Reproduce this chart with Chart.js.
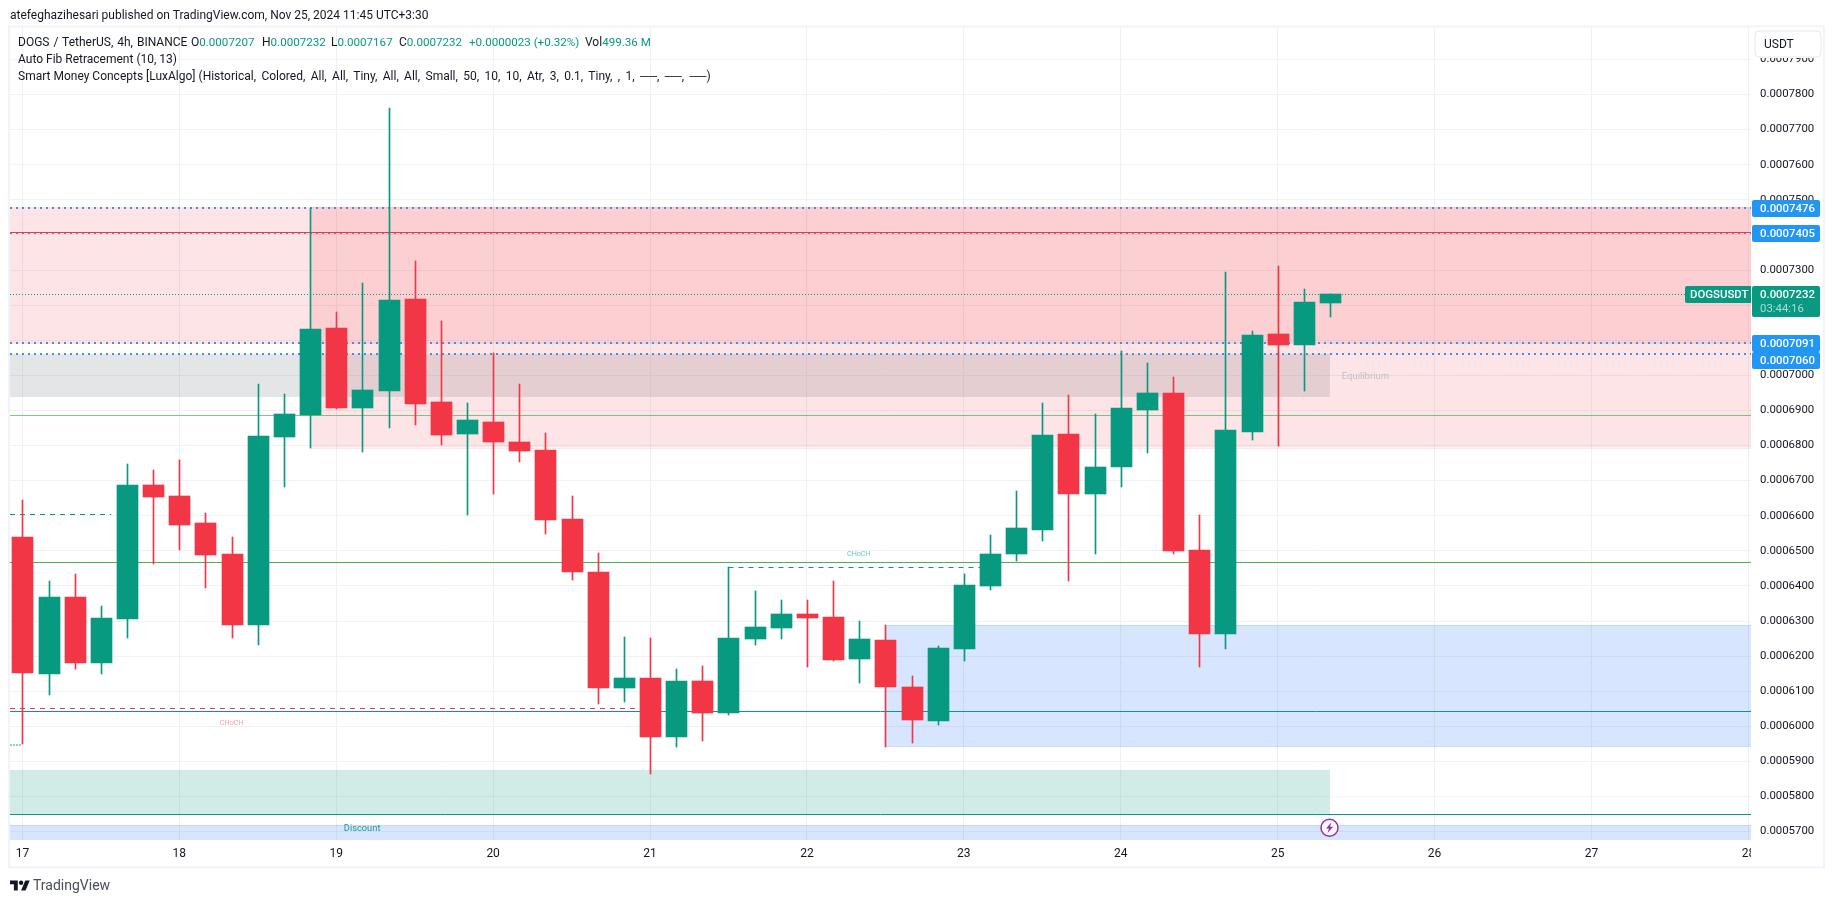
<!DOCTYPE html>
<html>
<head>
<meta charset="utf-8">
<title>DOGS / TetherUS, 4h</title>
<script src="https://cdn.jsdelivr.net/npm/chart.js@4"></script>
<style>
    html, body { margin: 0; padding: 0; background: #fff; width: 1835px; height: 903px; overflow: hidden; }
    body { font-family: Roboto, sans-serif; color: #131722; position: relative; }
    #myChart { position: absolute; left: 0; top: 0; }
    .txt { position: absolute; white-space: pre; font-size: 12px; line-height: 16px; }
    .val { color: #089981; font-size: 11.6px; }
    #logo { position: absolute; left: 10px; top: 878px; }
</style>
</head>
<body>
<canvas id="myChart" width="1835" height="903"></canvas>
<div class="txt" style="left:10px;top:7px">atefeghazihesari published on TradingView.com, Nov 25, 2024 11:45 UTC+3:30</div>
<div class="txt" style="left:18px;top:34px;word-spacing:1px">DOGS / TetherUS, 4h, BINANCE</div>
<div class="txt" style="left:191px;top:34px">O<span class="val">0.0007207</span></div>
<div class="txt" style="left:262px;top:34px">H<span class="val">0.0007232</span></div>
<div class="txt" style="left:331px;top:34px">L<span class="val">0.0007167</span></div>
<div class="txt" style="left:399px;top:34px">C<span class="val">0.0007232</span></div>
<div class="txt val" style="left:469px;top:34px">+0.0000023 (+0.32%)</div>
<div class="txt" style="left:585px;top:34px">Vol<span class="val">499.36 M</span></div>
<div class="txt" style="left:18px;top:51px">Auto Fib Retracement (10, 13)</div>
<div class="txt" style="left:18px;top:68px">Smart Money Concepts [LuxAlgo] <span style="word-spacing:2.4px">(Historical, Colored, All, All, Tiny, All, All, Small, 50, 10, 10, Atr, 3, 0.1, Tiny, , 1, ──, ──, ──)</span></div>
<svg id="logo" width="20" height="16" viewBox="0 0 36 28"><path fill="#131722" d="M14 22H7V11H0V4h14v18zM28 22h-8l7.5-18h8L28 22z"/><circle fill="#131722" cx="20" cy="8" r="4"/></svg>
<div class="txt" style="left:33px;top:877px;font-size:14px;color:#4a4e5a">TradingView</div>

<script>
// Свічки, індекс = номер 4h свічки від початку 17-го
var opens = [
    0.0006539, 0.0006149, 0.0006368, 0.0006180, 0.0006306, 0.0006687, 0.0006656, 0.0006579, 0.0006491, 0.0006289,
    0.0006824, 0.0006887, 0.0007135, 0.0006907, 0.0006955, 0.0007217, 0.0006924, 0.0006833, 0.0006867, 0.0006810,
    0.0006787, 0.0006590, 0.0006440, 0.0006109, 0.0006137, 0.0005970, 0.0006129, 0.0006038, 0.0006249, 0.0006280,
    0.0006320, 0.0006311, 0.0006192, 0.0006246, 0.0006112, 0.0006015, 0.0006220, 0.0006400, 0.0006491, 0.0006559,
    0.0006833, 0.0006662, 0.0006739, 0.0006901, 0.0006950, 0.0006502, 0.0006263, 0.0006838, 0.0007118, 0.0007086,
    0.0007207
];
var highs = [
    0.0006645, 0.0006414, 0.0006434, 0.0006343, 0.0006747, 0.0006730, 0.0006759, 0.0006608, 0.0006539, 0.0006975,
    0.0006947, 0.0007478, 0.0007180, 0.0007263, 0.0007762, 0.0007326, 0.0007155, 0.0006921, 0.0007063, 0.0006975,
    0.0006836, 0.0006656, 0.0006494, 0.0006254, 0.0006251, 0.0006163, 0.0006172, 0.0006453, 0.0006385, 0.0006360,
    0.0006360, 0.0006414, 0.0006300, 0.0006289, 0.0006143, 0.0006229, 0.0006434, 0.0006545, 0.0006670, 0.0006921,
    0.0006944, 0.0006890, 0.0007069, 0.0007035, 0.0006995, 0.0006602, 0.0007294, 0.0007126, 0.0007311, 0.0007246,
    0.0007232
];
var lows = [
    0.0005950, 0.0006089, 0.0006163, 0.0006149, 0.0006251, 0.0006462, 0.0006502, 0.0006394, 0.0006251, 0.0006231,
    0.0006682, 0.0006793, 0.0006904, 0.0006781, 0.0006850, 0.0006858, 0.0006801, 0.0006602, 0.0006662, 0.0006753,
    0.0006548, 0.0006417, 0.0006063, 0.0006069, 0.0005864, 0.0005941, 0.0005958, 0.0006032, 0.0006231, 0.0006249,
    0.0006169, 0.0006186, 0.0006123, 0.0005941, 0.0005952, 0.0006004, 0.0006186, 0.0006388, 0.0006471, 0.0006528,
    0.0006414, 0.0006491, 0.0006682, 0.0006779, 0.0006491, 0.0006169, 0.0006220, 0.0006816, 0.0006799, 0.0006955,
    0.0007167
];
var closes = [
    0.0006152, 0.0006368, 0.0006180, 0.0006308, 0.0006687, 0.0006653, 0.0006573, 0.0006488, 0.0006289, 0.0006827,
    0.0006890, 0.0007132, 0.0006907, 0.0006958, 0.0007214, 0.0006918, 0.0006830, 0.0006873, 0.0006810, 0.0006784,
    0.0006588, 0.0006440, 0.0006109, 0.0006137, 0.0005970, 0.0006129, 0.0006038, 0.0006251, 0.0006283, 0.0006320,
    0.0006308, 0.0006189, 0.0006249, 0.0006112, 0.0006018, 0.0006223, 0.0006402, 0.0006491, 0.0006565, 0.0006830,
    0.0006662, 0.0006739, 0.0006907, 0.0006950, 0.0006500, 0.0006263, 0.0006844, 0.0007115, 0.0007086, 0.0007209,
    0.0007232
];

var dayLabels = ['17', '18', '19', '20', '21', '22', '23', '24', '25', '26', '27', '28'];

// Межі осей
var xMin = -0.474;
var xMax = 66.1;
var yMin = 0.00056761;
var yMax = 0.00079923;

// Зони
var zoneFrom = [xMin, 11, xMin, xMin, 33, xMin];
var zoneTo = [xMax, xMax, 50, 50, xMax, xMax];
var zoneLow = [0.0007089, 0.0006794, 0.0006938, 0.0005749, 0.0005943, 0.00056761];
var zoneHigh = [0.0007480, 0.0007480, 0.0007062, 0.0005875, 0.0006289, 0.0005718];
var zoneFill = ['rgba(242,54,69,0.13)', 'rgba(242,54,69,0.13)', 'rgba(120,123,134,0.2)', 'rgba(8,153,129,0.19)', 'rgba(33,110,250,0.18)', 'rgba(33,110,250,0.18)'];
var zoneEdge = [null, 'rgba(242,54,69,0.12)', null, null, 'rgba(41,98,255,0.2)', 'rgba(41,98,255,0.2)'];

// Горизонтальні рівні (менший індекс малюється зверху)
var levelFrom = [xMin, xMin, xMin, xMin, xMin, xMin, xMin, xMin, xMin, xMin, xMin, 27, xMin, xMin];
var levelTo = [xMax, xMax, xMax, xMax, xMax, xMax, xMax, xMax, xMax, 24, 3.4, 37.2, -0.05, xMax];
var levelPrice = [0.0007408, 0.0007476, 0.0007405, 0.0007091, 0.0007060, 0.0007232, 0.0006886, 0.0006467, 0.0006045, 0.0006051, 0.0006604, 0.0006453, 0.0005948, 0.0005749];
var levelColor = ['#f23645', '#4590de', '#4590de', '#4590de', '#4590de', '#089981', 'rgba(76,175,80,0.7)', '#4caf50', '#089981', '#f23645', '#089981', '#089981', 'rgba(8,153,129,0.45)', '#089981'];
var levelWidth = [1, 2, 2, 2, 2, 1, 1, 1, 1, 1, 1, 1, 2, 1];
var levelDash = [[], [2, 4], [2, 4], [2, 4], [2, 4], [1, 2], [], [], [], [5, 5], [5, 5], [5, 5], [2, 1], []];

// Підписи на графіку
var noteText = ['CHoCH', 'CHoCH', 'Equilibrium', 'Discount'];
var noteX = [7.55, 31.53, 50.45, 12.29];
var notePrice = [0.0006010, 0.0006489, 0.0006995, 0.0005707];
var noteColor = ['#f7a0a8', '#6cc8b6', '#bcbfc8', '#22a08c'];
var noteSize = [7.2, 7.2, 9.5, 9.3];

// Мітки цін справа
var tagPrice = [0.0007476, 0.0007405, 0.0007091, 0.0007060];

var boltX = 50;
var boltPrice = 0.0005711;

var candleDown = closes.map((c, i) => c < opens[i]);
var candleColors = candleDown.map(d => d ? '#f23645' : '#089981');

var datasets = [];

// Зони: заливка до нижньої межі
zoneHigh.forEach((high, i) => {
    datasets.push({
        type: 'line',
        data: [{ x: zoneFrom[i], y: high }, { x: zoneTo[i], y: high }],
        borderColor: zoneEdge[i] || 'transparent',
        borderWidth: zoneEdge[i] ? 1 : 0,
        backgroundColor: zoneFill[i],
        fill: { value: zoneLow[i] },
        pointRadius: 0,
        order: 5
    });
    if (zoneEdge[i]) {
        datasets.push({
            type: 'line',
            data: [{ x: zoneFrom[i], y: zoneLow[i] }, { x: zoneTo[i], y: zoneLow[i] }],
            borderColor: zoneEdge[i],
            borderWidth: 1,
            pointRadius: 0,
            order: 5
        });
    }
});

levelPrice.forEach((price, i) => {
    datasets.push({
        type: 'line',
        data: [{ x: levelFrom[i], y: price }, { x: levelTo[i], y: price }],
        borderColor: levelColor[i],
        borderWidth: levelWidth[i],
        borderDash: levelDash[i],
        pointRadius: 0,
        order: 4
    });
});

// Тіні
datasets.push({
    type: 'bar',
    data: highs.map((h, i) => ({ x: i, y: [lows[i], h] })),
    backgroundColor: candleColors,
    barThickness: 1,
    maxBarThickness: 1,
    grouped: false,
    order: 2
});
// Тіла
datasets.push({
    type: 'bar',
    data: opens.map((o, i) => ({ x: i, y: [o, closes[i]] })),
    backgroundColor: candleColors,
    barThickness: 21,
    maxBarThickness: 21,
    grouped: false,
    order: 1
});

// Вирівнюємо все по пікселях, інакше лінії і свічки розмиті
const snapPlugin = {
    id: 'snap',
    afterDatasetsUpdate(chart) {
        chart.data.datasets.forEach((ds, i) => {
            const meta = chart.getDatasetMeta(i);
            if (ds.type === 'bar') {
                meta.data.forEach(el => {
                    el.x = Math.round(el.x) + 0.5;
                    el.y = Math.round(el.y);
                    el.base = Math.round(el.base);
                });
            } else {
                const off = ds.borderWidth % 2 === 1 ? 0.5 : 0;
                meta.data.forEach(el => {
                    el.y = Math.round(el.y) + off;
                });
            }
        });
    }
};

// Біла смуга справа, щоб обрізати "28" на часовій осі
const axisMaskPlugin = {
    id: 'axisMask',
    beforeDatasetsDraw(chart) {
        const c = chart.ctx, a = chart.chartArea;
        c.save();
        c.fillStyle = '#fff';
        c.fillRect(a.right, a.bottom, 80, 30);
        c.restore();
    }
};

const overlayPlugin = {
    id: 'overlay',
    afterDraw(chart) {
        const c = chart.ctx, a = chart.chartArea;
        const xs = chart.scales.x, ys = chart.scales.y;
        c.save();

        // рамка
        c.strokeStyle = '#f0f3fa';
        c.lineWidth = 2;
        c.strokeRect(9, 26.5, 1815, 841);

        // підписи
        c.textBaseline = 'middle';
        c.textAlign = 'left';
        noteText.forEach((t, i) => {
            c.font = noteSize[i] + 'px Roboto';
            c.fillStyle = noteColor[i];
            c.fillText(t, xs.getPixelForValue(noteX[i]), ys.getPixelForValue(notePrice[i]));
        });

        // блискавка
        const bx = Math.round(xs.getPixelForValue(boltX)) - 0.5, by = ys.getPixelForValue(boltPrice);
        c.beginPath();
        c.arc(bx, by, 8.5, 0, Math.PI * 2);
        c.fillStyle = '#fff';
        c.fill();
        c.strokeStyle = '#9c27b0';
        c.lineWidth = 1.5;
        c.stroke();
        c.fillStyle = '#9c27b0';
        c.beginPath();
        c.moveTo(bx + 2, by - 5.5);
        c.lineTo(bx - 3.5, by + 0.8);
        c.lineTo(bx - 0.5, by + 0.8);
        c.lineTo(bx - 2, by + 5.5);
        c.lineTo(bx + 3.5, by - 1);
        c.lineTo(bx + 0.5, by - 1);
        c.closePath();
        c.fill();

        // кнопка валюти
        c.fillStyle = '#fff';
        c.fillRect(a.right + 1, 27, 71, 31);
        c.beginPath();
        c.roundRect(1755, 31, 66, 26, 4);
        c.strokeStyle = '#e6e8ef';
        c.lineWidth = 1;
        c.stroke();
        c.fillStyle = '#131722';
        c.font = '12px Roboto';
        c.fillText('USDT', 1764, 44.5);

        // сині мітки: якщо накладаються, зсуваємо нижню вниз
        let lastBottom = -1;
        tagPrice.forEach(price => {
            let top = Math.round(ys.getPixelForValue(price)) - 8;
            if (top < lastBottom) top = lastBottom;
            lastBottom = top + 17;
            c.fillStyle = '#2196f3';
            c.beginPath();
            c.roundRect(1752, top, 68, 17, 2);
            c.fill();
            c.fillStyle = '#fff';
            c.font = '500 11.4px Roboto';
            c.fillText(price.toFixed(7), 1760, top + 9);
        });

        // поточна ціна
        const last = closes[closes.length - 1];
        const ly = Math.round(ys.getPixelForValue(last));
        c.fillStyle = '#089981';
        c.beginPath();
        c.roundRect(1752, ly - 8, 68, 31, 2);
        c.fill();
        c.beginPath();
        c.roundRect(1685, ly - 8, 66, 17, [2, 0, 0, 2]);
        c.fill();
        c.fillStyle = '#fff';
        c.font = '500 11.4px Roboto';
        c.fillText(last.toFixed(7), 1760, ly + 1);
        c.fillText('DOGSUSDT', 1690, ly + 1);
        c.fillStyle = 'rgba(255,255,255,0.65)';
        c.font = '11.4px Roboto';
        c.fillText('03:44:16', 1760, ly + 15);

        c.restore();
    }
};

new Chart(document.getElementById('myChart').getContext('2d'), {
    type: 'bar',
    data: { datasets: datasets },
    plugins: [snapPlugin, axisMaskPlugin, overlayPlugin],
    options: {
        responsive: false,
        animation: false,
        events: [],
        layout: { padding: { left: 10, top: 27, right: 12, bottom: 36 } },
        plugins: { legend: { display: false }, tooltip: { enabled: false } },
        scales: {
            x: {
                type: 'linear',
                offset: false,
                min: xMin,
                max: xMax,
                afterFit: (scale) => { scale.height = 27; },
                grid: { offset: false, color: '#eef0f3', drawTicks: false },
                border: { display: false },
                ticks: {
                    stepSize: 6,
                    includeBounds: false,
                    maxRotation: 0,
                    autoSkip: false,
                    padding: 7,
                    color: '#131722',
                    font: { family: 'Roboto', size: 12 },
                    callback: (v) => dayLabels[v / 6]
                }
            },
            y: {
                position: 'right',
                min: yMin,
                max: yMax,
                afterFit: (scale) => { scale.width = 72; },
                grid: { color: '#f1f2f5', drawTicks: false },
                border: { display: false },
                ticks: {
                    stepSize: 0.00001,
                    includeBounds: false,
                    autoSkip: false,
                    padding: 9,
                    z: 1,
                    color: '#131722',
                    font: { family: 'Roboto', size: 11.4 },
                    callback: (v) => v.toFixed(7)
                }
            }
        }
    }
});
</script>
</body>
</html>
